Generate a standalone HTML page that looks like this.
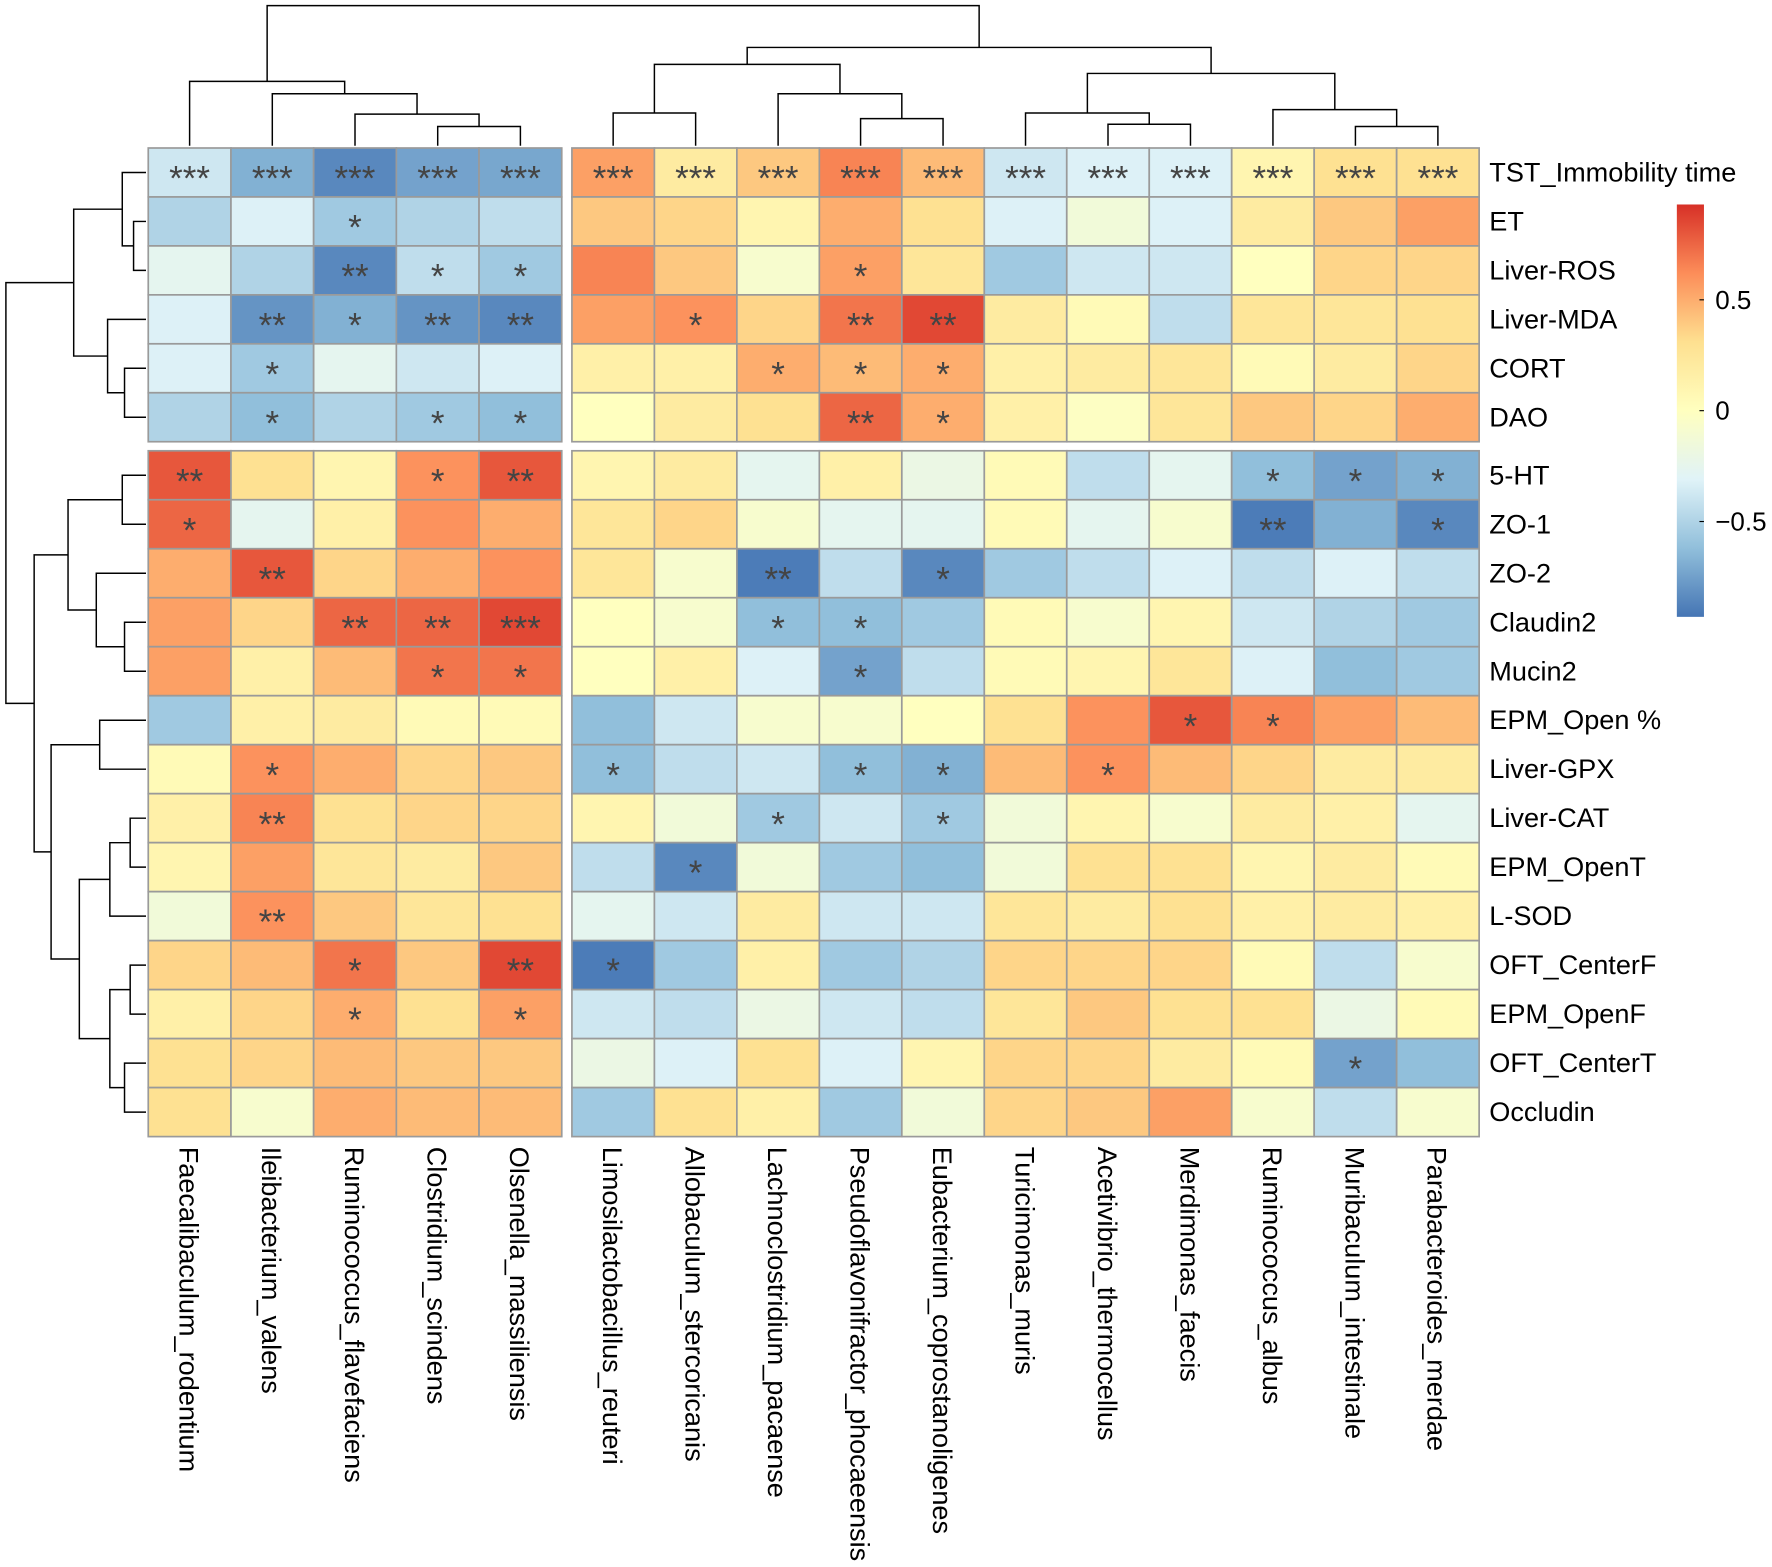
<!DOCTYPE html>
<html><head><meta charset="utf-8">
<style>
html,body{margin:0;padding:0;background:#fff;}
svg{display:block;}
text{font-family:"Liberation Sans",Arial,sans-serif;}
</style></head>
<body>
<svg id="chart" width="1772" height="1567" viewBox="0 0 1568 1387" xmlns="http://www.w3.org/2000/svg">
<g id="dendro" stroke="#000" stroke-width="1.3" fill="none"></g>
<g id="cells"></g>
<g id="stars"></g>
<g id="rowlabels"></g>
<g id="collabels"></g>
<g id="legend"></g>
</svg>
<script>
const rowNames = ["TST_Immobility time","ET","Liver-ROS","Liver-MDA","CORT","DAO","5-HT","ZO-1","ZO-2","Claudin2","Mucin2","EPM_Open %","Liver-GPX","Liver-CAT","EPM_OpenT","L-SOD","OFT_CenterF","EPM_OpenF","OFT_CenterT","Occludin"];
const colNames = ["Faecalibaculum_rodentium","Ileibacterium_valens","Ruminococcus_flavefaciens","Clostridium_scindens","Olsenella_massiliensis","Limosilactobacillus_reuteri","Allobaculum_stercoricanis","Lachnoclostridium_pacaense","Pseudoflavonifractor_phocaeensis","Eubacterium_coprostanoligenes","Turicimonas_muris","Acetivibrio_thermocellus","Merdimonas_faecis","Ruminococcus_albus","Muribaculum_intestinale","Parabacteroides_merdae"];
const values = [
[-0.38,-0.68,-0.85,-0.74,-0.72,0.55,0.2,0.4,0.65,0.45,-0.38,-0.32,-0.32,0.1,0.3,0.3],
[-0.5,-0.32,-0.56,-0.5,-0.44,0.4,0.35,0.1,0.5,0.3,-0.32,-0.14,-0.32,0.2,0.4,0.55],
[-0.26,-0.5,-0.85,-0.44,-0.56,0.65,0.4,-0.08,0.55,0.25,-0.56,-0.38,-0.38,0.0,0.35,0.35],
[-0.32,-0.8,-0.68,-0.8,-0.85,0.55,0.6,0.35,0.7,0.85,0.2,0.05,-0.44,0.25,0.25,0.3],
[-0.32,-0.56,-0.26,-0.38,-0.32,0.15,0.15,0.5,0.45,0.5,0.15,0.2,0.25,0.05,0.2,0.35],
[-0.5,-0.62,-0.5,-0.56,-0.62,0.0,0.2,0.3,0.75,0.5,0.15,-0.02,0.25,0.4,0.35,0.5],
[0.8,0.3,0.1,0.6,0.8,0.1,0.2,-0.26,0.15,-0.2,0.05,-0.44,-0.26,-0.62,-0.74,-0.68],
[0.75,-0.26,0.15,0.6,0.5,0.25,0.35,-0.08,-0.26,-0.26,0.05,-0.26,-0.08,-0.9,-0.68,-0.85],
[0.5,0.8,0.35,0.5,0.6,0.25,-0.08,-0.9,-0.44,-0.85,-0.56,-0.44,-0.32,-0.44,-0.32,-0.44],
[0.55,0.35,0.75,0.75,0.85,0.0,-0.08,-0.62,-0.62,-0.56,0.05,-0.08,0.1,-0.38,-0.5,-0.56],
[0.55,0.15,0.45,0.7,0.7,0.0,0.15,-0.32,-0.74,-0.44,0.05,0.1,0.25,-0.32,-0.62,-0.56],
[-0.56,0.15,0.2,0.05,0.05,-0.62,-0.38,-0.08,-0.08,0.0,0.3,0.6,0.8,0.65,0.55,0.45],
[0.05,0.6,0.5,0.35,0.4,-0.62,-0.44,-0.38,-0.62,-0.68,0.45,0.6,0.45,0.35,0.2,0.2],
[0.15,0.65,0.3,0.35,0.35,0.1,-0.14,-0.56,-0.38,-0.56,-0.14,0.1,-0.08,0.2,0.15,-0.26],
[0.1,0.55,0.25,0.2,0.4,-0.44,-0.85,-0.14,-0.56,-0.62,-0.14,0.3,0.3,0.1,0.2,0.05],
[-0.14,0.6,0.4,0.25,0.3,-0.26,-0.38,0.2,-0.38,-0.38,0.25,0.2,0.3,0.15,0.2,0.15],
[0.35,0.45,0.7,0.4,0.85,-0.9,-0.56,0.15,-0.56,-0.5,0.35,0.35,0.35,0.05,-0.44,-0.08],
[0.15,0.35,0.5,0.3,0.55,-0.38,-0.44,-0.2,-0.38,-0.44,0.25,0.4,0.3,0.3,-0.2,0.05],
[0.3,0.35,0.45,0.4,0.4,-0.2,-0.32,0.3,-0.32,0.1,0.35,0.35,0.2,0.05,-0.74,-0.62],
[0.3,-0.08,0.5,0.45,0.45,-0.56,0.3,0.15,-0.56,-0.14,0.35,0.4,0.55,-0.08,-0.44,-0.08]
];
const stars = [
"3333333333333333",
"0010000000000000",
"0021100010000000",
"0212201022000000",
"0100000111000000",
"0101100021000000",
"2001200000000111",
"1000000000000201",
"0200000201000000",
"0022300110000000",
"0001100010000000",
"0000000000001100",
"0100010011010000",
"0200000101000000",
"0000001000000000",
"0200000000000000",
"0010210000000000",
"0010100000000000",
"0000000000000010",
"0000000000000000"
];
const legendTicks = [0.5, 0, -0.5];

const NS="http://www.w3.org/2000/svg";
function mk(tag, attrs, parent){const e=document.createElementNS(NS,tag);for(const k in attrs)e.setAttribute(k,attrs[k]);parent.appendChild(e);return e;}
const pal=["#4575B4","#91BFDB","#E0F3F8","#FFFFBF","#FEE090","#FC8D59","#D73027"];
const VMIN=-0.93, VMAX=0.93;
function hex(c){return [1,3,5].map(i=>parseInt(c.substr(i,2),16));}
function color(v){let t=(v-VMIN)/(VMAX-VMIN);t=Math.max(0,Math.min(1,t))*(pal.length-1);const i=Math.min(pal.length-2,Math.floor(t));const f=t-i;const a=hex(pal[i]),b=hex(pal[i+1]);return "rgb("+a.map((x,k)=>Math.round(x+(b[k]-x)*f)).join(",")+")";}
function colX(j){return j<5?131+73.2*j:506+73*(j-5);}
function colW(j){return j<5?73.2:73;}
function rowY(i){return i<6?131+43.33*i:399+43.36*(i-6);}
function rowH(i){return i<6?43.33:43.36;}

const cells=document.getElementById('cells'), st=document.getElementById('stars');
values.forEach((row,i)=>row.forEach((v,j)=>{
  const r=mk('rect',{x:colX(j),y:rowY(i),width:colW(j),height:rowH(i),fill:color(v),stroke:"#9a9a9a","stroke-width":1.5},cells);
  
  
  const n=+stars[i][j];
  if(n>0){const t=mk('text',{x:colX(j)+colW(j)/2,y:rowY(i)+rowH(i)/2+16,"text-anchor":"middle","font-size":31,fill:"#444"},st);t.textContent="*".repeat(n);
  
  }
}));
const rl=document.getElementById('rowlabels');
rowNames.forEach((n,i)=>{const t=mk('text',{x:1318,y:rowY(i)+rowH(i)/2+8,"font-size":24,fill:"#000"},rl);t.textContent=n;

});
const cl=document.getElementById('collabels');
colNames.forEach((n,j)=>{const cx=colX(j)+colW(j)/2-9;const t=mk('text',{transform:"translate("+cx+",1015) rotate(90)","font-size":24,fill:"#000"},cl);t.textContent=n;

});

const lg=document.getElementById('legend');
const defs=mk('defs',{},lg);const gr=mk('linearGradient',{id:"lgrad",x1:0,y1:1,x2:0,y2:0},defs);
pal.forEach((c,k)=>mk('stop',{offset:k/(pal.length-1),"stop-color":c},gr));
const LT=181,LB=546;
const lr=mk('rect',{x:1484,y:LT,width:24,height:LB-LT,fill:"url(#lgrad)"},lg);


legendTicks.forEach(v=>{const y=LB-(v-VMIN)/(VMAX-VMIN)*(LB-LT);
 mk('line',{x1:1504,x2:1508,y1:y,y2:y,stroke:"#000","stroke-width":1},lg);
 const t=mk('text',{x:1518,y:y+8,"font-size":23,fill:"#000"},lg);t.textContent=v<0?"\u22120.5":String(v);
 
 });

const dg=document.getElementById('dendro');
function cj(a,b,h,lh,rh){mk('path',{d:`M${a},${lh}V${h}H${b}V${rh}`},dg);return (a+b)/2;}
const cx=j=>colX(j)+colW(j)/2, LEAFC=129;
let A=cj(cx(3),cx(4),112,LEAFC,LEAFC);
let B=cj(cx(2),A,101,LEAFC,112);
let C=cj(cx(1),B,83,LEAFC,101);
let D=cj(cx(0),C,72,LEAFC,83);
let E1=cj(cx(5),cx(6),100,LEAFC,LEAFC);
let E2=cj(cx(8),cx(9),105,LEAFC,LEAFC);
let E3=cj(cx(7),E2,83,LEAFC,105);
let E4=cj(E1,E3,57,100,83);
let F1=cj(cx(11),cx(12),110,LEAFC,LEAFC);
let F2=cj(cx(10),F1,100,LEAFC,110);
let G1=cj(cx(14),cx(15),112,LEAFC,LEAFC);
let G2=cj(cx(13),G1,97,LEAFC,112);
let H=cj(F2,G2,65,100,97);
let I=cj(E4,H,42,57,65);
cj(D,I,5,72,42);
function rj(a,b,x,la,lb){mk('path',{d:`M${la},${a}H${x}V${b}H${lb}`},dg);return (a+b)/2;}
const ry=i=>rowY(i)+rowH(i)/2, LEAFR=129;
let r1=rj(ry(1),ry(2),118,LEAFR,LEAFR);
let r2=rj(ry(0),r1,108,LEAFR,118);
let r3=rj(ry(4),ry(5),110,LEAFR,LEAFR);
let r4=rj(ry(3),r3,95,LEAFR,110);
let r5=rj(r2,r4,65,108,95);
let b1=rj(ry(6),ry(7),108,LEAFR,LEAFR);
let b2=rj(ry(9),ry(10),110,LEAFR,LEAFR);
let b3=rj(ry(8),b2,85,LEAFR,110);
let b4=rj(b1,b3,60,108,85);
let b5=rj(ry(11),ry(12),88,LEAFR,LEAFR);
let b6=rj(ry(13),ry(14),115,LEAFR,LEAFR);
let b7=rj(b6,ry(15),97,115,LEAFR);
let b8=rj(ry(16),ry(17),115,LEAFR,LEAFR);
let b9=rj(ry(18),ry(19),110,LEAFR,LEAFR);
let b10=rj(b8,b9,97,115,110);
let b11=rj(b7,b10,70,97,97);
let b12=rj(b5,b11,45,88,70);
let b13=rj(b4,b12,30,60,45);
rj(r5,b13,5,65,30);
</script>
</body></html>
